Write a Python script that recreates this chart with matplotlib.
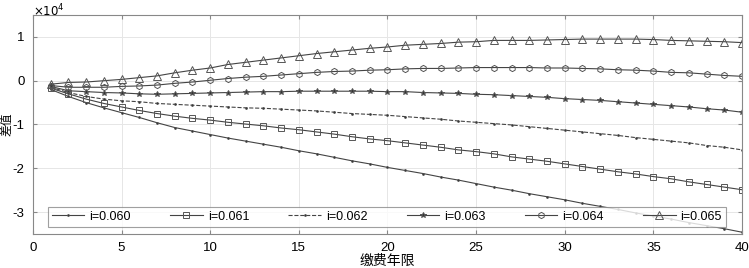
import numpy as np
import matplotlib
matplotlib.use("Agg")
from matplotlib import pyplot as plt
from matplotlib.ticker import FuncFormatter

plt.rcParams['font.family'] = ['Liberation Sans', 'Noto Sans CJK SC', 'DejaVu Sans']

# 缴费年限
years = np.arange(1, 41)

# 差值
d060 = [-2000, -3600, -5000, -6200, -7300, -8400, -9600, -10700, -11500, -12300,
        -13100, -13800, -14500, -15200, -16000, -16700, -17500, -18300, -19000, -19800,
        -20500, -21200, -22000, -22700, -23500, -24300, -25000, -25800, -26500, -27200,
        -28000, -28700, -29400, -30200, -30900, -31600, -32400, -33100, -33800, -34600]
d061 = [-1700, -3000, -4200, -5200, -6000, -6800, -7500, -8100, -8600, -9000,
        -9500, -9900, -10300, -10800, -11200, -11700, -12200, -12800, -13300, -13700,
        -14200, -14700, -15200, -15800, -16200, -16700, -17400, -17900, -18400, -19000,
        -19600, -20200, -20800, -21300, -21900, -22400, -23100, -23700, -24300, -24900]
d062 = [-1500, -2700, -3600, -4200, -4600, -4800, -5200, -5400, -5600, -5800,
        -6000, -6200, -6300, -6500, -6700, -6900, -7200, -7500, -7700, -7900,
        -8200, -8500, -8800, -9200, -9500, -9800, -10100, -10500, -10900, -11300,
        -11700, -12100, -12500, -13000, -13400, -13800, -14200, -14800, -15200, -15800]
d063 = [-1300, -2300, -2500, -2700, -2800, -3000, -3100, -3000, -2900, -2800,
        -2700, -2600, -2500, -2500, -2400, -2400, -2400, -2400, -2400, -2500,
        -2500, -2700, -2800, -2900, -3100, -3200, -3400, -3600, -3800, -4100,
        -4300, -4500, -4800, -5100, -5400, -5700, -6000, -6400, -6700, -7200]
d064 = [-1100, -1500, -1500, -1500, -1300, -1200, -1000, -600, -300, 100,
        500, 800, 1000, 1300, 1600, 1900, 2100, 2200, 2400, 2500,
        2700, 2800, 2800, 2900, 3000, 3000, 3000, 3000, 2900, 2900,
        2800, 2700, 2500, 2400, 2200, 1900, 1800, 1500, 1200, 1000]
d065 = [-800, -400, -300, 0, 300, 700, 1100, 1800, 2400, 2900,
        3700, 4200, 4700, 5200, 5700, 6200, 6600, 7000, 7400, 7700,
        8100, 8300, 8500, 8800, 8900, 9200, 9200, 9200, 9300, 9400,
        9500, 9500, 9500, 9500, 9400, 9200, 9100, 9000, 8900, 8700]

labels = ['i=0.060', 'i=0.061', 'i=0.062', 'i=0.063', 'i=0.064', 'i=0.065']
series = [d060, d061, d062, d063, d064, d065]
# (线型, 标记, 大小, 填充)
styles = [('-', '.', 2.5, '#111111'), ('-', 's', 4.5, 'none'), ('--', '.', 2.5, '#111111'),
          ('-', '*', 4, '#333333'), ('-', 'h', 4.5, 'none'), ('-', '^', 5.5, 'none')]

fig = plt.figure(figsize=(7.49, 2.68), dpi=100)
ax = fig.add_axes([0.044, 0.127, 0.9467, 0.817])

for vals, lab, (ls, mk, ms, fc) in zip(series, labels, styles):
    ax.plot(years, vals, linestyle=ls, color='#444444', linewidth=0.8,
            marker=mk, markersize=ms, markerfacecolor=fc,
            markeredgecolor='#555555', markeredgewidth=0.7, label=lab)

ax.set_xlim(0, 40)
ax.set_ylim(-35000, 15000)
ax.set_xticks(np.arange(0, 41, 5))
ax.set_yticks([-30000, -20000, -10000, 0, 10000])
ax.yaxis.set_major_formatter(FuncFormatter(lambda v, p: '%d' % round(v / 1e4)))
ax.grid(True, color='#e6e6e6', linewidth=0.7)
ax.tick_params(direction='in', top=True, right=True, length=3, color='#888888',
               labelsize=9.5, pad=6)
for s in ax.spines.values():
    s.set_color('#888888')
    s.set_linewidth(0.8)

fig.text(0.044, 0.99, r'$\times10^4$', fontsize=8.5, ha='left', va='top')
ax.set_xlabel('缴费年限', fontsize=10, labelpad=0)
ax.set_ylabel('差值', fontsize=8.5)
ax.yaxis.set_label_coords(-0.027, 0.5)

leg = ax.legend(ncol=6, loc='lower left', bbox_to_anchor=(0.0127, 0.005, 0.973, 0.1),
                mode='expand', fontsize=9, frameon=True, fancybox=False,
                edgecolor='#888888', handlelength=2.6, handletextpad=0.4, borderpad=0.3)
leg.get_frame().set_linewidth(0.8)

fig.savefig('out.png', dpi=100)
